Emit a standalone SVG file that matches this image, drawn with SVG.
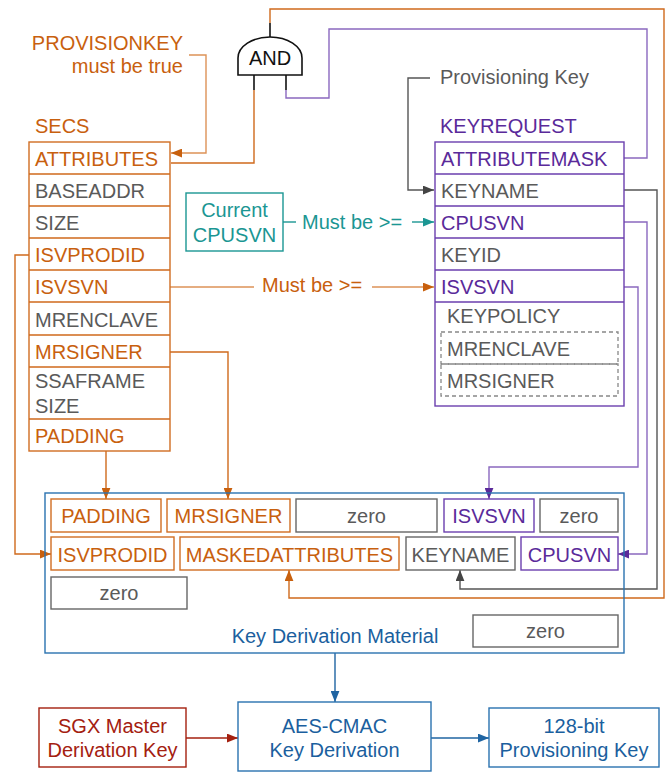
<svg xmlns="http://www.w3.org/2000/svg" width="667" height="773" viewBox="0 0 667 773">
<style>
text{font-family:"Liberation Sans",Arial,sans-serif;font-size:20px}
.to{fill:#c8600e}.tg{fill:#5a5a5a}.tp{fill:#5a2a9a}.tt{fill:#1b9693}.tb{fill:#1b5f9e}.tr{fill:#a4200f}.tk{fill:#111}
.c{text-anchor:middle}
.bo{fill:#fff;stroke:#d06d22;stroke-width:1.4}
.bg{fill:#fff;stroke:#666;stroke-width:1.4}
.bp{fill:#fff;stroke:#6b3fae;stroke-width:1.4}
.bd{fill:none;stroke:#888;stroke-width:1.3;stroke-dasharray:4 3}
.bt{fill:#fff;stroke:#1b9693;stroke-width:1.4}
.bb{fill:none;stroke:#2a72b0;stroke-width:1.4}
.br{fill:#fff;stroke:#a4200f;stroke-width:1.4}
.lo{fill:none;stroke:#cf6a1c;stroke-width:1.4}
.llo{fill:none;stroke:#dd9257;stroke-width:1.4}
.lg{fill:none;stroke:#555;stroke-width:1.4}
.lp{fill:none;stroke:#8a68bf;stroke-width:1.4}
.lt{fill:none;stroke:#1b9693;stroke-width:1.4}
.lb{fill:none;stroke:#1f64a2;stroke-width:1.4}
.lr{fill:none;stroke:#a4200f;stroke-width:1.4}
.lk{fill:none;stroke:#111;stroke-width:1.6}
</style>
<defs>
<marker id="ao" viewBox="0 0 10 8" refX="10" refY="4" markerWidth="11" markerHeight="9" orient="auto" markerUnits="userSpaceOnUse"><path d="M0,0 L10,4 L0,8 z" fill="#c8600e"/></marker>
<marker id="ag" viewBox="0 0 10 8" refX="10" refY="4" markerWidth="11" markerHeight="9" orient="auto" markerUnits="userSpaceOnUse"><path d="M0,0 L10,4 L0,8 z" fill="#444"/></marker>
<marker id="ap" viewBox="0 0 10 8" refX="10" refY="4" markerWidth="11" markerHeight="9" orient="auto" markerUnits="userSpaceOnUse"><path d="M0,0 L10,4 L0,8 z" fill="#5a2a9a"/></marker>
<marker id="at" viewBox="0 0 10 8" refX="10" refY="4" markerWidth="11" markerHeight="9" orient="auto" markerUnits="userSpaceOnUse"><path d="M0,0 L10,4 L0,8 z" fill="#1b9693"/></marker>
<marker id="ab" viewBox="0 0 10 8" refX="10" refY="4" markerWidth="11" markerHeight="9" orient="auto" markerUnits="userSpaceOnUse"><path d="M0,0 L10,4 L0,8 z" fill="#1f64a2"/></marker>
<marker id="ar" viewBox="0 0 10 8" refX="10" refY="4" markerWidth="11" markerHeight="9" orient="auto" markerUnits="userSpaceOnUse"><path d="M0,0 L10,4 L0,8 z" fill="#a4200f"/></marker>
</defs>
<rect width="667" height="773" fill="#fff"/>

<g id="connectors">
<path class="llo" d="M189,55 H206 V153 H171" marker-end="url(#ao)"/>
<path class="lo" d="M171,163 H254 V90"/>
<path class="lk" d="M254,90 V75"/>
<path class="lp" d="M624,158 H647 V29 H329 V98 H286 V90"/>
<path class="lk" d="M286,90 V75"/>
<path class="lk" d="M270,37 V23"/>
<path class="lo" d="M270,23 V9 H664 V598 H289 V570" marker-end="url(#ao)"/>
<path class="lg" d="M430,78 H408 V190 H434" marker-end="url(#ag)"/>
<path class="lt" d="M283,222 H296"/>
<path class="lt" d="M412,222 H434" marker-end="url(#at)"/>
<path class="llo" d="M170,287 H254"/>
<path class="llo" d="M372,287 H434" marker-end="url(#ao)"/>
<path class="lo" d="M29,255 H15 V554 H51" marker-end="url(#ao)"/>
<path class="lo" d="M170,352 H228 V499" marker-end="url(#ao)"/>
<path class="lo" d="M106,451 V499" marker-end="url(#ao)"/>
<path class="lg" d="M624,190 H657 V589 H460 V570" marker-end="url(#ag)"/>
<path class="lp" d="M624,222 H647 V554 H618" marker-end="url(#ap)"/>
<path class="lp" d="M624,287 H638 V467 H489 V499" marker-end="url(#ap)"/>
<path class="lb" d="M335,653 V702" marker-end="url(#ab)"/>
<path class="lr" d="M186,738 H238" marker-end="url(#ar)"/>
<path class="lb" d="M431,738 H489" marker-end="url(#ab)"/>
</g>

<g id="labels">
<text class="to" x="183" y="50" text-anchor="end">PROVISIONKEY</text>
<text class="to" x="183" y="73" text-anchor="end">must be true</text>
<text class="tg" x="440" y="84">Provisioning Key</text>
<text class="tt" x="302" y="229">Must be &gt;=</text>
<text class="to" x="262" y="292">Must be &gt;=</text>
</g>

<g id="and-gate">
<path d="M238,75 V58 A32,21 0 0 1 302,58 V75 Z" fill="#fff" stroke="#111" stroke-width="1.6"/>
<text class="tk c" x="270" y="65">AND</text>
</g>

<g id="secs">
<text class="to" x="35" y="133">SECS</text>
<rect class="bo" x="29" y="142" width="141" height="309"/>
<path class="lo" d="M29,174 H170 M29,206 H170 M29,238 H170 M29,270 H170 M29,302 H170 M29,335 H170 M29,367 H170 M29,419 H170"/>
<text class="to" x="35" y="166">ATTRIBUTES</text>
<text class="tg" x="35" y="198">BASEADDR</text>
<text class="tg" x="35" y="230">SIZE</text>
<text class="to" x="35" y="262">ISVPRODID</text>
<text class="to" x="35" y="294">ISVSVN</text>
<text class="tg" x="35" y="327">MRENCLAVE</text>
<text class="to" x="35" y="359">MRSIGNER</text>
<text class="tg" x="35" y="388">SSAFRAME</text>
<text class="tg" x="35" y="413">SIZE</text>
<text class="to" x="35" y="443">PADDING</text>
</g>

<g id="current-cpusvn">
<rect class="bt" x="186" y="193" width="97" height="58"/>
<text class="tt c" x="234.5" y="217">Current</text>
<text class="tt c" x="234.5" y="242">CPUSVN</text>
</g>

<g id="keyrequest">
<text class="tp" x="440" y="133">KEYREQUEST</text>
<rect class="bp" x="435" y="142" width="189" height="264"/>
<path class="lp" style="stroke:#6b3fae" d="M435,174 H624 M435,206 H624 M435,238 H624 M435,270 H624 M435,302 H624"/>
<text class="tp" x="441" y="166">ATTRIBUTEMASK</text>
<text class="tg" x="441" y="198">KEYNAME</text>
<text class="tp" x="441" y="230">CPUSVN</text>
<text class="tg" x="441" y="262">KEYID</text>
<text class="tp" x="441" y="294">ISVSVN</text>
<text class="tg" x="447" y="323">KEYPOLICY</text>
<rect class="bd" x="441" y="332" width="177" height="32"/>
<rect class="bd" x="441" y="364" width="177" height="32"/>
<text class="tg" x="447" y="356">MRENCLAVE</text>
<text class="tg" x="447" y="388">MRSIGNER</text>
</g>

<g id="key-derivation-material">
<rect class="bb" x="45" y="493" width="579" height="160"/>
<rect class="bo" x="51" y="499" width="110" height="33"/>
<text class="to c" x="106" y="523">PADDING</text>
<rect class="bo" x="167" y="499" width="123" height="33"/>
<text class="to c" x="228.5" y="523">MRSIGNER</text>
<rect class="bg" x="296" y="499" width="141" height="33"/>
<text class="tg c" x="366.5" y="523">zero</text>
<rect class="bp" x="444" y="499" width="90" height="33"/>
<text class="tp c" x="489" y="523">ISVSVN</text>
<rect class="bg" x="540" y="499" width="78" height="33"/>
<text class="tg c" x="579" y="523">zero</text>
<rect class="bo" x="51" y="537" width="123" height="33"/>
<text class="to c" x="112.5" y="561.5">ISVPRODID</text>
<rect class="bo" x="180" y="537" width="219" height="33"/>
<text class="to c" x="289.5" y="561.5">MASKEDATTRIBUTES</text>
<rect class="bg" x="406" y="537" width="109" height="33"/>
<text class="tg c" x="460.5" y="561.5">KEYNAME</text>
<rect class="bp" x="521" y="537" width="97" height="33"/>
<text class="tp c" x="569.5" y="561.5">CPUSVN</text>
<rect class="bg" x="51" y="577" width="136" height="32"/>
<text class="tg c" x="119" y="600">zero</text>
<rect class="bg" x="473" y="615" width="145" height="32"/>
<text class="tg c" x="545.5" y="638">zero</text>
<text class="tb c" x="335" y="643">Key Derivation Material</text>
</g>

<g id="sgx-master-key">
<rect class="br" x="39" y="708" width="147" height="59"/>
<text class="tr c" x="112.5" y="733">SGX Master</text>
<text class="tr c" x="112.5" y="757">Derivation Key</text>
</g>

<g id="aes-cmac">
<rect class="bb" x="238" y="702" width="193" height="69" style="fill:#fff"/>
<text class="tb c" x="334.5" y="733">AES-CMAC</text>
<text class="tb c" x="334.5" y="757">Key Derivation</text>
</g>

<g id="provisioning-key">
<rect class="bb" x="489" y="708" width="170" height="59" style="fill:#fff"/>
<text class="tb c" x="574" y="733">128-bit</text>
<text class="tb c" x="574" y="757">Provisioning Key</text>
</g>
</svg>
